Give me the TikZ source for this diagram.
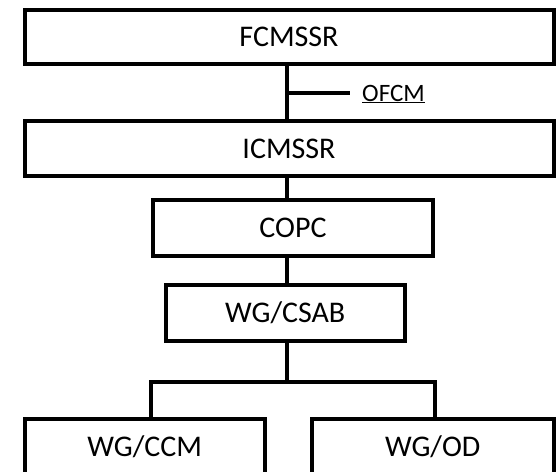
\documentclass[tikz,border=0pt]{standalone}
\usepackage{fontspec}
\setmainfont{Carlito}
\usepackage{tikz}

\tikzset{
  unit/.style={draw, line width=4pt, inner sep=0pt, text depth=0pt, text height=19pt,
    font=\fontsize{30}{34}\selectfont},
  link/.style={line width=4pt}
}

\begin{document}
\begin{tikzpicture}[x=1pt, y=-1pt]
    \useasboundingbox (0,0) rectangle (556,471);
    \coordinate (trunk) at (286.5,0);

    % committees
    \node[unit, minimum width=529pt, minimum height=54.5pt] (FCMSSR) at (289,36.75) {FCMSSR};
    \node[unit, minimum width=529pt, minimum height=55pt] (ICMSSR) at (289,148.5) {ICMSSR};
    \node[unit, minimum width=280pt, minimum height=55.5pt] (COPC) at (293,227.75) {COPC};
    \node[unit, minimum width=239.5pt, minimum height=56pt] (CSAB) at (285.25,313) {WG/CSAB};
    \node[unit, minimum width=240.5pt, minimum height=56pt] (CCM) at (144.75,447) {WG/CCM};
    \node[unit, minimum width=241.5pt, minimum height=56pt] (OD) at (432.75,447) {WG/OD};

    % office
    \coordinate (tee) at (286.5,93);
    \node[anchor=base west, inner sep=0pt, font=\fontsize{25}{29}\selectfont] (OFCM) at (362,101) {\underline{OFCM}};

    \draw[link] (FCMSSR.south -| trunk) -- (ICMSSR.north -| trunk);
    \draw[link] (tee) -- (350,93);
    \draw[link] (ICMSSR.south -| trunk) -- (COPC.north -| trunk);
    \draw[link] (COPC.south -| trunk) -- (CSAB.north -| trunk);

    % working groups
    \coordinate (fork) at (286.5,382);
    \draw[link] (CSAB.south -| trunk) -- (fork);
    \draw[link] (CCM.north -| COPC.west) |- (fork) -| (OD.north -| COPC.east);
\end{tikzpicture}
\end{document}
